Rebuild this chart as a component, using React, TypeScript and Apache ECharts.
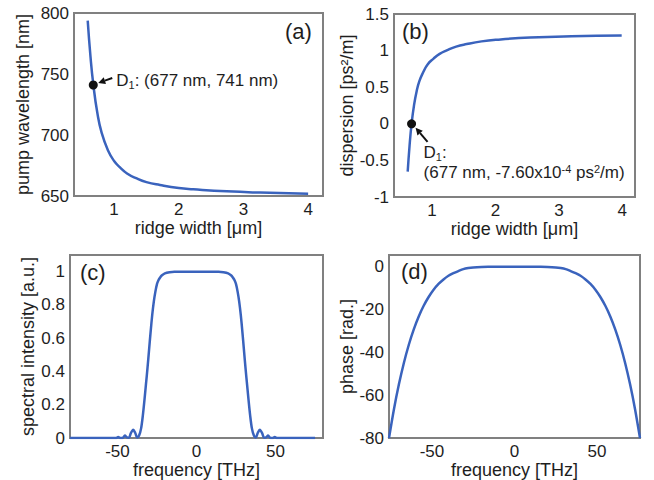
import React, { useEffect, useRef } from "react";
import * as echarts from "echarts";

// (a) pump wavelength vs ridge width
const aWidth = [0.592, 0.635, 0.678, 0.74, 0.808, 0.91, 1.0, 1.091, 1.2, 1.349, 1.5, 1.709, 2.0, 2.224, 2.74, 3.255, 4.0];
const aPump = [793.7, 764.2, 741.8, 718.4, 701.7, 686.9, 678.7, 673.5, 668.5, 664.4, 661.4, 659.0, 656.5, 655.5, 653.8, 652.8, 651.9];
const aPoint = [0.678, 741];

// (b) dispersion vs ridge width
const bWidth = [0.616, 0.645, 0.677, 0.715, 0.758, 0.8, 0.862, 0.93, 1.02, 1.12, 1.231, 1.38, 1.547, 1.78, 2.02, 2.545, 3.2, 3.99];
const bDisp = [-0.654, -0.303, 0, 0.249, 0.448, 0.582, 0.707, 0.811, 0.887, 0.956, 1.003, 1.054, 1.089, 1.126, 1.149, 1.178, 1.196, 1.205];
const bPoint = [0.677, 0];

// (c) spectral intensity vs frequency
const cFreq = [
  -80, -55, -51, -49.5, -48, -46.5, -45.3, -44, -42.7, -41.5, -40, -38.8, -37.5, -36.3, -35, -34, -33, -32,
  -31, -30, -29, -28, -27, -26, -25, -24, -23, -22, -20, -17, -14, 0, 14, 17, 20, 22, 23, 24, 25, 26, 27, 28,
  29, 30, 31, 32, 33, 34, 35, 36.3, 37.5, 38.8, 40, 41.5, 42.7, 44, 45.3, 46.5, 48, 49.5, 51, 55, 75,
];
const cIntensity = [
  0, 0, 0, 0.006, 0, 0.002, 0.016, 0.004, 0.002, 0.03, 0.05, 0.032, 0.003, 0.015, 0.06, 0.13, 0.22, 0.32,
  0.42, 0.53, 0.64, 0.74, 0.82, 0.88, 0.925, 0.95, 0.965, 0.977, 0.99, 0.997, 1.0, 1.0, 1.0, 0.997, 0.99,
  0.977, 0.965, 0.95, 0.925, 0.88, 0.82, 0.74, 0.64, 0.53, 0.42, 0.32, 0.22, 0.13, 0.06, 0.015, 0.003,
  0.032, 0.05, 0.03, 0.002, 0.004, 0.016, 0.002, 0, 0.006, 0, 0, 0,
];

// (d) phase vs frequency
const dFreq = [
  -76, -73, -70, -67, -64, -61, -58, -55, -52, -49, -46, -43, -40, -37, -34, -31, -28, -25, -20, -15, -10, -5, 0,
  5, 10, 15, 20, 25, 28, 31, 34, 37, 40, 43, 46, 49, 52, 55, 58, 61, 64, 67, 70, 73, 76,
];
const dPhase = [
  -80, -66.5, -54.9, -44.9, -36.4, -29.2, -23.2, -18.2, -14.1, -10.7, -8.0, -5.9, -4.2, -3.0, -2.0, -1.1, -0.6, -0.3,
  -0.08, -0.02, 0, 0, 0, 0, 0, -0.02, -0.08, -0.3, -0.6, -1.1, -2.0, -3.0, -4.2, -5.9, -8.0, -10.7, -14.1, -18.2,
  -23.2, -29.2, -36.4, -44.9, -54.9, -66.5, -80,
];

// tick labels
const ridgeTicks = [1, 2, 3, 4];
const freqTicks = [-50, 0, 50];
const intensityTicks = [0, 0.2, 0.4, 0.6, 0.8, 1];
const phaseTicks = [-80, -60, -40, -20, 0];

const FONT = "Liberation Sans, Arial, Helvetica, sans-serif";
const TEXT = "#1e1e1e";
const LINE = "#3a63bd";

const zip = (xs: number[], ys: number[]) => xs.map((x, i) => [x, ys[i]]);

const gridBase = {
  show: true,
  borderColor: "#808080",
  borderWidth: 2,
  backgroundColor: "transparent",
};

const axisBase = {
  type: "value",
  axisLine: { show: false },
  axisTick: { show: false },
  splitLine: { show: false },
  axisLabel: { color: TEXT, fontSize: 17, fontFamily: FONT, margin: 5 },
  nameTextStyle: { color: TEXT, fontSize: 18, fontFamily: FONT },
  nameLocation: "middle",
};

function lineSeries(xi: number, xs: number[], ys: number[], smooth: number) {
  return {
    type: "line",
    xAxisIndex: xi,
    yAxisIndex: xi,
    data: zip(xs, ys),
    showSymbol: false,
    smooth,
    lineStyle: { color: LINE, width: 2.5 },
    itemStyle: { color: LINE },
    z: 2,
  };
}

function arrow(tail: number[], tip: number[]) {
  const dx = tip[0] - tail[0];
  const dy = tip[1] - tail[1];
  const len = Math.hypot(dx, dy);
  const ux = dx / len;
  const uy = dy / len;
  const nx = -uy;
  const ny = ux;
  const hl = 7;
  const hw = 3.5;
  const bx = tip[0] - ux * hl;
  const by = tip[1] - uy * hl;
  return [
    {
      type: "line",
      shape: { x1: tail[0], y1: tail[1], x2: bx, y2: by },
      style: { stroke: "#111", lineWidth: 2 },
      z: 10,
    },
    {
      type: "polygon",
      shape: {
        points: [
          [tip[0], tip[1]],
          [bx + nx * hw, by + ny * hw],
          [bx - nx * hw, by - ny * hw],
        ],
      },
      style: { fill: "#111" },
      z: 10,
    },
  ];
}

export default function App() {
  const ref = useRef<HTMLDivElement>(null);

  useEffect(() => {
    if (!ref.current) return;
    const chart = echarts.init(ref.current, null, { renderer: "svg" });

    const option: any = {
      animation: false,
      textStyle: { fontFamily: FONT },
      grid: [
        { ...gridBase, left: 74, top: 13, width: 249, height: 183 },
        { ...gridBase, left: 394, top: 14, width: 241, height: 183 },
        { ...gridBase, left: 70, top: 255, width: 253, height: 184 },
        { ...gridBase, left: 389, top: 255, width: 251, height: 184 },
      ],
      xAxis: [
        {
          ...axisBase,
          gridIndex: 0,
          min: 0.38,
          max: 4.23,
          name: "ridge width [μm]",
          nameGap: 23,
          axisLabel: { ...axisBase.axisLabel, customValues: ridgeTicks },
        },
        {
          ...axisBase,
          gridIndex: 1,
          min: 0.4,
          max: 4.2,
          name: "ridge width [μm]",
          nameGap: 23,
          axisLabel: { ...axisBase.axisLabel, customValues: ridgeTicks },
        },
        {
          ...axisBase,
          gridIndex: 2,
          min: -80,
          max: 80,
          name: "frequency [THz]",
          nameGap: 22,
          axisLabel: { ...axisBase.axisLabel, customValues: freqTicks },
        },
        {
          ...axisBase,
          gridIndex: 3,
          min: -76,
          max: 76,
          name: "frequency [THz]",
          nameGap: 22,
          axisLabel: { ...axisBase.axisLabel, customValues: freqTicks },
        },
      ],
      yAxis: [
        {
          ...axisBase,
          gridIndex: 0,
          min: 650,
          max: 800,
          interval: 50,
          name: "pump wavelength [nm]",
          nameGap: 42,
        },
        {
          ...axisBase,
          gridIndex: 1,
          min: -1,
          max: 1.5,
          interval: 0.5,
          name: "dispersion [ps²/m]",
          nameGap: 38,
        },
        {
          ...axisBase,
          gridIndex: 2,
          min: 0,
          max: 1.1,
          name: "spectral intensity [a.u.]",
          nameGap: 33,
          axisLabel: { ...axisBase.axisLabel, customValues: intensityTicks },
        },
        {
          ...axisBase,
          gridIndex: 3,
          min: -80,
          max: 5.5,
          name: "phase [rad.]",
          nameGap: 33,
          axisLabel: { ...axisBase.axisLabel, customValues: phaseTicks },
        },
      ],
      series: [
        lineSeries(0, aWidth, aPump, 0.5),
        lineSeries(1, bWidth, bDisp, 0.5),
        lineSeries(2, cFreq, cIntensity, 0.25),
        lineSeries(3, dFreq, dPhase, 0.3),
        {
          type: "scatter",
          xAxisIndex: 0,
          yAxisIndex: 0,
          data: [aPoint],
          symbolSize: 9,
          itemStyle: { color: "#111", opacity: 1 },
          z: 5,
        },
        {
          type: "scatter",
          xAxisIndex: 1,
          yAxisIndex: 1,
          data: [bPoint],
          symbolSize: 9,
          itemStyle: { color: "#111", opacity: 1 },
          z: 5,
        },
      ],
    };
    chart.setOption(option);

    const pa = chart.convertToPixel({ seriesIndex: 4 }, aPoint) as number[];
    const pb = chart.convertToPixel({ seriesIndex: 5 }, bPoint) as number[];

    const rich = {
      sub: { fontSize: 11, fontFamily: FONT, fill: TEXT, verticalAlign: "bottom", padding: [8, 0, 0, 0] },
      sup: { fontSize: 11, fontFamily: FONT, fill: TEXT, verticalAlign: "top", padding: [0, 0, 8, 0] },
      n: { fontSize: 17, fontFamily: FONT, fill: TEXT },
    };

    const panelLabel = (text: string, x: number, y: number) => ({
      type: "text",
      x,
      y,
      style: { text, fontSize: 22, fontFamily: FONT, fill: TEXT, verticalAlign: "middle" },
      z: 10,
    });

    chart.setOption({
      graphic: [
        panelLabel("(a)", 285, 31),
        panelLabel("(b)", 402, 31),
        panelLabel("(c)", 80, 272),
        panelLabel("(d)", 401, 271),
        ...arrow([pa[0] + 19, pa[1] - 7], [pa[0] + 5, pa[1] - 2]),
        ...arrow([pb[0] + 16, pb[1] + 18], [pb[0] + 4, pb[1] + 4]),
        {
          type: "text",
          x: pa[0] + 23,
          y: pa[1] - 4,
          style: {
            text: "{n|D}{sub|1}{n|: (677 nm, 741 nm)}",
            rich,
            verticalAlign: "middle",
            fill: TEXT,
          },
          z: 10,
        },
        {
          type: "text",
          x: pb[0] + 12,
          y: pb[1] + 29,
          style: {
            text: "{n|D}{sub|1}{n|:}",
            rich,
            verticalAlign: "middle",
            fill: TEXT,
          },
          z: 10,
        },
        {
          type: "text",
          x: pb[0] + 12,
          y: pb[1] + 49,
          style: {
            text: "{n|(677 nm, -7.60x10}{sup|-4}{n| ps}{sup|2}{n|/m)}",
            rich,
            verticalAlign: "middle",
            fill: TEXT,
          },
          z: 10,
        },
      ],
    });

    return () => chart.dispose();
  }, []);

  return (
    <div
      ref={ref}
      style={{ position: "absolute", left: 0, top: 0, width: 654, height: 480, background: "#fff" }}
    />
  );
}
